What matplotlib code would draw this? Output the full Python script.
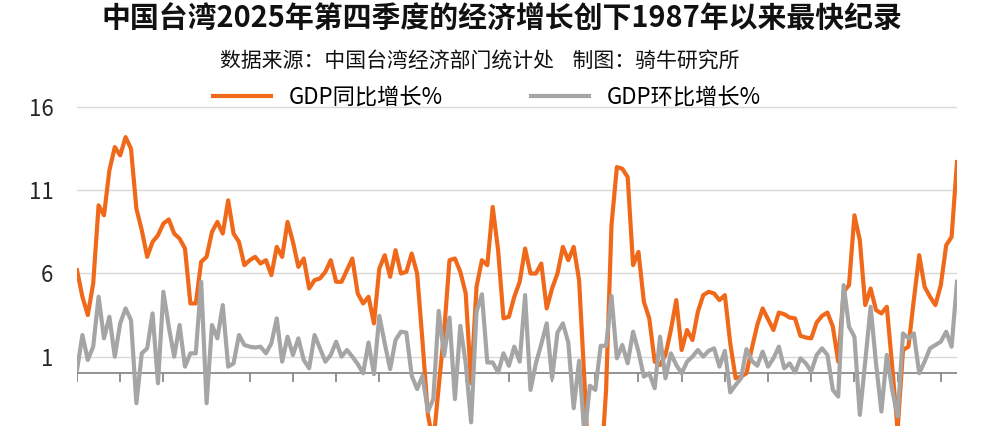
import matplotlib.pyplot as plt
import numpy as np

plt.rcParams['font.family'] = ['Noto Sans CJK SC', 'DejaVu Sans']

title = "中国台湾2025年第四季度的经济增长创下1987年以来最快纪录"
subtitle = "数据来源：中国台湾经济部门统计处    制图：骑牛研究所"
labels = ["GDP同比增长%", "GDP环比增长%"]

# quarterly, 1985Q1 .. 2025Q4
yoy = [6.2, 4.6, 3.5, 5.4, 10.1, 9.5, 12.2, 13.6, 13.1, 14.2,
       13.5, 9.9, 8.6, 7.0, 7.9, 8.3, 9.0, 9.25, 8.4, 8.1,
       7.5, 4.2, 4.2, 6.7, 7.0, 8.5, 9.1, 8.4, 10.4, 8.4,
       7.9, 6.5, 6.8, 7.0, 6.6, 6.8, 5.9, 7.6, 7.0, 9.1,
       7.9, 6.4, 6.9, 5.1, 5.6, 5.7, 6.1, 6.8, 5.5, 5.5,
       6.2, 6.9, 4.8, 4.2, 4.6, 3.0, 6.3, 7.1, 5.8, 7.4,
       6.0, 6.1, 7.2, 6.0, 1.9, -2.5, -4.2, -0.8, 2.5, 6.8,
       6.9, 6.1, 4.8, -0.6, 5.2, 6.8, 6.5, 10.0, 7.4, 3.3,
       3.4, 4.6, 5.5, 7.5, 6.0, 6.0, 6.6, 3.9, 5.1, 6.0,
       7.6, 6.8, 7.6, 5.6, -0.5, -7.1, -7.9, -6.1, -1.0, 8.9,
       12.4, 12.3, 11.8, 6.5, 7.3, 4.3, 3.3, 0.7, 0.5, 1.1,
       2.6, 4.4, 1.4, 2.6, 2.0, 3.7, 4.7, 4.9, 4.8, 4.4,
       4.7, 1.8, -0.3, -0.2, 0.0, 1.5, 2.9, 3.9, 3.25, 2.6,
       3.65, 3.55, 3.35, 3.3, 2.25, 2.15, 2.1, 3.05, 3.45, 3.65,
       2.8, 0.7, 4.9, 5.3, 9.5, 8.0, 4.1, 5.1, 3.8, 3.6,
       4.0, 0.4, -3.4, 1.4, 1.6, 4.4, 7.1, 5.2, 4.6, 4.1,
       5.3, 7.7, 8.2, 12.7]

qoq = [0.2, 2.3, 0.8, 1.6, 4.6, 2.1, 3.4, 1.0, 3.0, 3.9,
       3.2, -1.8, 1.2, 1.5, 3.6, -0.6, 4.9, 2.8, 1.0, 2.9,
       0.4, 1.2, 1.2, 5.5, -1.8, 2.9, 2.1, 4.1, 0.4, 0.6,
       2.3, 1.7, 1.6, 1.55, 1.6, 1.2, 1.8, 3.3, 0.7, 2.2,
       1.1, 2.1, 0.8, 0.3, 2.3, 1.5, 0.7, 1.1, 1.9, 1.0,
       1.4, 1.0, 0.55, 0.0, 1.85, -0.05, 3.45, 1.8, 0.25, 2.0,
       2.5, 2.45, -0.15, -0.95, -0.15, -2.3, -1.55, 3.75, 1.05, 3.35,
       -1.55, 2.85, 0.6, -2.95, 3.7, 4.75, 0.65, 0.65, 0.05, 1.2,
       0.45, 1.6, 0.7, 4.7, -1.0, 0.6, 1.75, 3.0, -0.3, 2.45,
       3.0, 1.85, -2.1, 0.75, -3.8, -0.75, -1.0, 1.65, 1.65, 4.65,
       0.9, 1.7, 0.6, 2.5, 1.3, -0.2, 0.0, -0.9, 2.2, -0.3,
       1.2, 0.5, 0.0, 0.7, 1.0, 1.4, 1.0, 1.35, 1.5, 0.4,
       1.35, -1.15, -0.7, -0.3, 1.45, 0.75, 0.45, 1.3, 0.4, 0.9,
       1.6, 0.3, 0.6, 0.05, 0.9, 0.6, 0.1, 1.1, 1.5, 1.1,
       -1.0, -1.4, 5.3, 2.8, 2.2, -2.5, 0.7, 4.0, 0.6, -2.3,
       1.1, -1.0, -2.6, 2.4, 2.1, 2.4, 0.0, 0.7, 1.5, 1.7,
       1.9, 2.5, 1.6, 5.5]

yticks = [1, 6, 11, 16]

x = np.arange(len(yoy))

fig = plt.figure(figsize=(10, 4.26), dpi=100)
ax = fig.add_axes([0.077, 0.0, 0.88, 0.7523])

ax.plot(x, yoy, color='#F0691A', lw=3.0, label=labels[0], zorder=3)
ax.plot(x, qoq, color='#A5A5A5', lw=3.0, label=labels[1], zorder=4)

ax.set_xlim(0, len(yoy) - 1)
ax.set_ylim(-3.17, 16.1)
ax.set_yticks(yticks)
ax.grid(axis='y', color='#d9d9d9', lw=1)
ax.set_axisbelow(True)
for s in ax.spines.values():
    s.set_visible(False)
ax.tick_params(axis='y', length=0, pad=17, labelsize=16, labelcolor='#262626')
ax.tick_params(axis='x', bottom=False, labelbottom=False)

# category axis at zero, tick every 2 years
ax.axhline(0, color='#808080', lw=1.2, zorder=2)
ax.vlines(x[::8], -0.55, 0, color='#808080', lw=1.2, zorder=2)

fig.text(0.502, 1 - 19 / 426, title, ha='center', va='center',
         fontsize=20.8, fontweight='bold', color='#111111')
fig.text(0.48, 1 - 62 / 426, subtitle, ha='center', va='center',
         fontsize=15, fontweight='medium', color='#111111')
fig.legend(loc='center', bbox_to_anchor=(0.487, 1 - 97 / 426), ncol=2,
           frameon=False, fontsize=16, handlelength=2.6, handletextpad=0.8,
           columnspacing=4)

fig.savefig("out.png", dpi=100)
